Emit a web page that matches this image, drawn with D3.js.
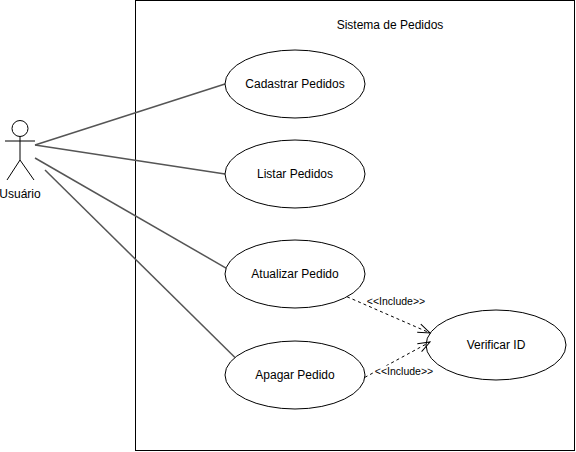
<!DOCTYPE html>
<html>
<head>
<meta charset="utf-8">
<script src="https://cdn.jsdelivr.net/npm/d3@7"></script>
<style>
  body { margin: 0; background: #fff; }
  svg { display: block; font-family: "Liberation Sans", Arial, sans-serif; }
</style>
</head>
<body>
<div id="chart"></div>
<script>
// dati del diagramma
const systemName = 'Sistema de Pedidos';
const actorName = 'Usuário';
const useCases = ['Cadastrar Pedidos', 'Listar Pedidos', 'Atualizar Pedido', 'Apagar Pedido'];
const includedCase = 'Verificar ID';
const includes = ['Atualizar Pedido', 'Apagar Pedido'];
const includeLabel = '<<Include>>';

const width = 576, height = 452;

const svg = d3.select('#chart').append('svg')
    .attr('width', width)
    .attr('height', height);

// posizioni dei casi d'uso
const rx = 70, ry = 34;
const caseX = 295;
const caseY = [84, 174, 274, 375];
const cases = useCases.map((name, i) => ({ name, cx: caseX, cy: caseY[i] }));
const verify = { name: includedCase, cx: 496, cy: 345, rx: 70, ry: 35 };

// bordo del sistema
svg.append('rect')
    .attr('x', 135.5).attr('y', 0.5)
    .attr('width', 439).attr('height', 450)
    .attr('fill', 'none')
    .attr('stroke', '#000')
    .attr('stroke-width', 1);

svg.append('text')
    .attr('x', 390).attr('y', 29)
    .attr('text-anchor', 'middle')
    .style('font-size', '12px')
    .text(systemName);

// attore
const actor = svg.append('g').attr('fill', 'none').attr('stroke', '#000').attr('stroke-width', 1);
actor.append('circle').attr('cx', 20).attr('cy', 128.5).attr('r', 8);
actor.append('line').attr('x1', 20).attr('y1', 136.5).attr('x2', 20).attr('y2', 160);
actor.append('line').attr('x1', 5).attr('y1', 141).attr('x2', 35).attr('y2', 141);
actor.append('line').attr('x1', 20).attr('y1', 160).attr('x2', 7).attr('y2', 180);
actor.append('line').attr('x1', 20).attr('y1', 160).attr('x2', 34).attr('y2', 180);
svg.append('text')
    .attr('x', 20).attr('y', 198)
    .attr('text-anchor', 'middle')
    .style('font-size', '12px')
    .text(actorName);

// associazioni attore -> caso d'uso (punto di partenza, angolo sul bordo dell'ellisse)
const assoc = [
    { from: [35, 145], angle: 180 },
    { from: [35, 145], angle: 180 },
    { from: [35, 158], angle: 190 },
    { from: [45, 170], angle: 211 }
];
function perimeter(c, deg, a = rx, b = ry) {
    const t = deg * Math.PI / 180;
    return [c.cx + a * Math.cos(t), c.cy + b * Math.sin(t)];
}
cases.forEach((c, i) => {
    const p = perimeter(c, assoc[i].angle);
    svg.append('line')
        .attr('x1', assoc[i].from[0]).attr('y1', assoc[i].from[1])
        .attr('x2', p[0]).attr('y2', p[1])
        .attr('stroke', '#555')
        .attr('stroke-width', 1.5);
});

// ellissi
cases.forEach(c => {
    svg.append('ellipse')
        .attr('cx', c.cx).attr('cy', c.cy)
        .attr('rx', rx).attr('ry', ry)
        .attr('fill', '#fff').attr('stroke', '#000');
    svg.append('text')
        .attr('x', c.cx).attr('y', c.cy + 4)
        .attr('text-anchor', 'middle')
        .style('font-size', '12px')
        .text(c.name);
});
svg.append('ellipse')
    .attr('cx', verify.cx).attr('cy', verify.cy)
    .attr('rx', verify.rx).attr('ry', verify.ry)
    .attr('fill', '#fff').attr('stroke', '#000');
svg.append('text')
    .attr('x', verify.cx).attr('y', verify.cy + 4)
    .attr('text-anchor', 'middle')
    .style('font-size', '12px')
    .text(verify.name);

// freccia aperta
svg.append('defs').append('marker')
    .attr('id', 'open')
    .attr('viewBox', '0 0 14 12')
    .attr('refX', 13).attr('refY', 6)
    .attr('markerWidth', 14).attr('markerHeight', 12)
    .attr('markerUnits', 'userSpaceOnUse')
    .attr('orient', 'auto')
    .append('path')
    .attr('d', 'M1,1.5 L13,6 L1,10.5')
    .attr('fill', 'none')
    .attr('stroke', '#000')
    .attr('stroke-width', 1);

// include
const incl = [
    { start: 42, end: [430, 333], label: [396, 301] },
    { start: 4, end: [430, 342], label: [404, 371] }
];
includes.forEach((name, i) => {
    const c = cases.find(d => d.name === name);
    const s = perimeter(c, incl[i].start);
    svg.append('line')
        .attr('x1', s[0]).attr('y1', s[1])
        .attr('x2', incl[i].end[0]).attr('y2', incl[i].end[1])
        .attr('stroke', '#000')
        .attr('stroke-dasharray', '3,3')
        .attr('marker-end', 'url(#open)');
    const t = svg.append('text')
        .attr('x', incl[i].label[0]).attr('y', incl[i].label[1] + 3.5)
        .attr('text-anchor', 'middle')
        .style('font-size', '10.5px')
        .text(includeLabel);
    const bb = t.node().getBBox();
    svg.insert('rect', () => t.node())
        .attr('x', bb.x).attr('y', bb.y + 1)
        .attr('width', bb.width).attr('height', bb.height - 2)
        .attr('fill', '#fff');
});
</script>
</body>
</html>
